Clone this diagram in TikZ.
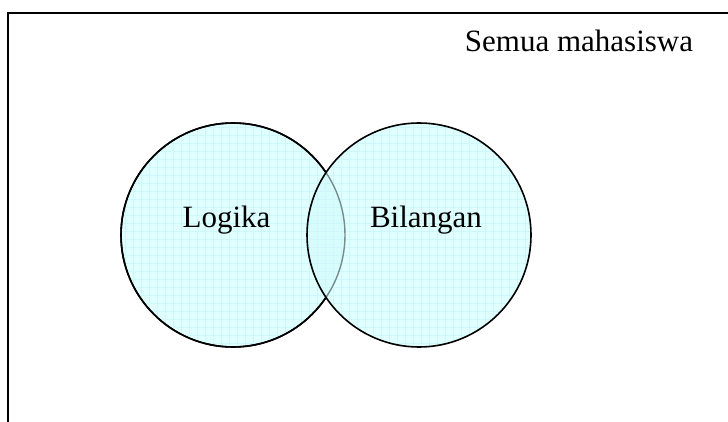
\documentclass[tikz,border=0pt]{standalone}
\usepackage{fontspec}
\setmainfont{Liberation Serif}
\definecolor{vfill}{RGB}{224,255,255}
\definecolor{vmid}{RGB}{214,252,252}
\definecolor{vgrid}{RGB}{206,247,251}
\definecolor{varc}{RGB}{120,140,140}
\begin{document}
\begin{tikzpicture}[x=1pt,y=-1pt,
  frame/.style={line width=1.5pt,line cap=rect},
  setlabel/.style={anchor=base,inner sep=0pt,font=\fontsize{31}{37}\selectfont},
  setcircle/.style={line width=1.6pt},
  gridline/.style={vgrid,line width=0.6pt}]
\useasboundingbox (0,0) rectangle (728,422);
% frame (open at right and bottom)
\coordinate (tl) at (8,13);
\coordinate (tr) at (728,13);
\coordinate (bl) at (8,422);
\draw[frame] (tr) -- (tl) -- (bl);
% base fills
\fill[vfill] (419,235) circle[radius=112];
\fill[vfill] (233,235) circle[radius=112];
% intersection slightly deeper
\begin{scope}
  \clip (233,235) circle[radius=112];
  \fill[vmid] (419,235) circle[radius=112];
\end{scope}
% faint grid over both circles
\begin{scope}
  \clip (233,235) circle[radius=112] (419,235) circle[radius=112];
  \foreach \k in {0,...,52} {
    \draw[gridline] (117+8*\k,115) -- (117+8*\k,355);
  }
  \foreach \k in {0,...,29} {
    \draw[gridline] (115,119+8*\k) -- (540,119+8*\k);
  }
\end{scope}
% left circle outline: black outside right circle, grey inside it
\begin{scope}
  \clip (0,0) rectangle (728,422) (419,235) circle[radius=112.8];
  \draw[setcircle,even odd rule] (233,235) circle[radius=112];
\end{scope}
\begin{scope}[even odd rule]
  \clip (0,0) rectangle (728,422) (419,235) circle[radius=112.8];
  \draw[setcircle] (233,235) circle[radius=112];
\end{scope}
\begin{scope}
  \clip (419,235) circle[radius=112];
  \draw[varc,line width=1.4pt] (233,235) circle[radius=112];
\end{scope}
\draw[setcircle] (419,235) circle[radius=112];
% labels
\node[setlabel] (univ) at (579,52) {Semua mahasiswa};
\node[setlabel] (logika) at (226.5,228) {Logika};
\node[setlabel] (bilangan) at (426,228) {Bilangan};
\end{tikzpicture}
\end{document}
